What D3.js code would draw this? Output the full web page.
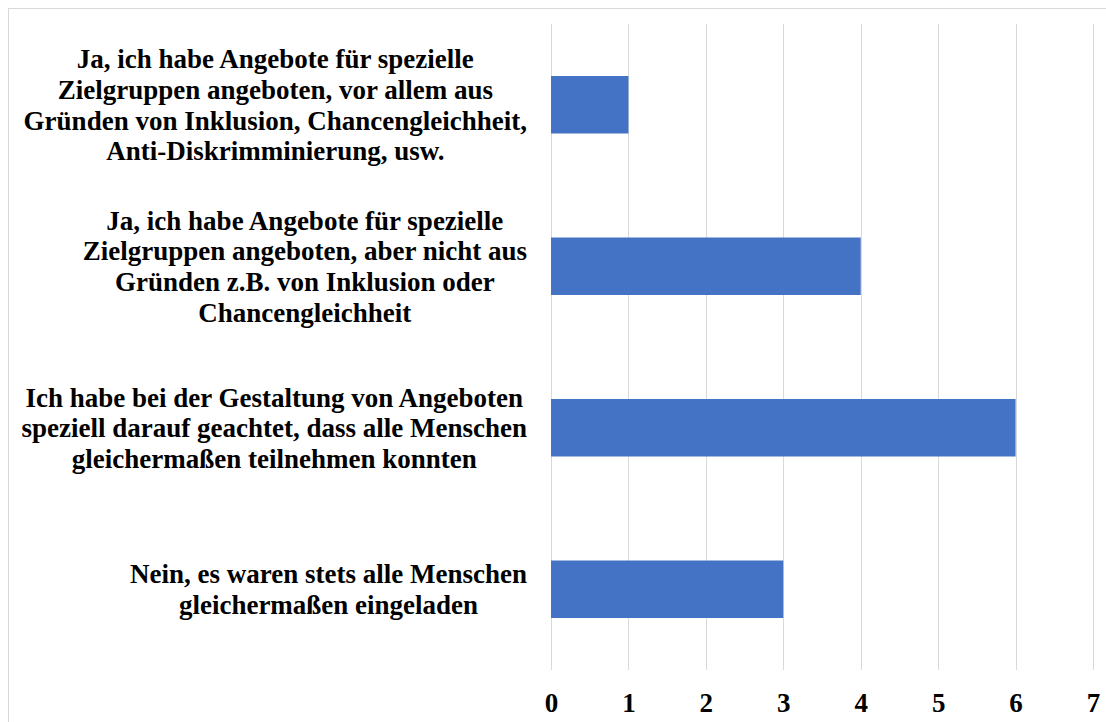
<!DOCTYPE html>
<html><head><meta charset="utf-8">
<script src="https://cdn.jsdelivr.net/npm/d3@7"></script>
<style>
html,body{margin:0;padding:0;background:#fff;}
svg{display:block;}
</style></head>
<body>
<svg id="chart" width="1106" height="722"></svg>
<script>
const categories = [
  ["Ja, ich habe Angebote für spezielle", "Zielgruppen angeboten, vor allem aus", "Gründen von Inklusion, Chancengleichheit,", "Anti-Diskrimminierung, usw."],
  ["Ja, ich habe Angebote für spezielle", "Zielgruppen angeboten, aber nicht aus", "Gründen z.B. von Inklusion oder", "Chancengleichheit"],
  ["Ich habe bei der Gestaltung von Angeboten", "speziell darauf geachtet, dass alle Menschen", "gleichermaßen teilnehmen konnten"],
  ["Nein, es waren stets alle Menschen", "gleichermaßen eingeladen"]
];
const values = [1, 4, 6, 3];
const xTicks = [0, 1, 2, 3, 4, 5, 6, 7];

(function () {
const svg = d3.select("#chart");
const plotLeft = 551, plotRight = 1093, plotTop = 24, plotBottom = 670;
const fontFam = "'Liberation Serif','Times New Roman',serif";

// outer border
svg.append("rect").attr("x", 8.5).attr("y", 8.5).attr("width", 1120).attr("height", 740)
  .attr("fill", "none").attr("stroke", "#d9d9d9").attr("stroke-width", 1);

const x = d3.scaleLinear().domain([0, 7]).range([plotLeft, plotRight]);
const y = d3.scaleBand().domain(d3.range(categories.length)).range([plotTop, plotBottom]).paddingInner(0.644).paddingOuter(0.322);

// gridlines
svg.append("g").selectAll("line").data(xTicks).join("line")
  .attr("x1", d => Math.round(x(d)) + 0.5).attr("x2", d => Math.round(x(d)) + 0.5)
  .attr("y1", plotTop).attr("y2", plotBottom)
  .attr("stroke", "#d9d9d9").attr("stroke-width", 1);

// bars
svg.append("g").selectAll("rect").data(values).join("rect")
  .attr("x", x(0)).attr("y", (d, i) => y(i))
  .attr("width", d => x(d) - x(0)).attr("height", y.bandwidth())
  .attr("fill", "#4472C4");

// x axis labels
const xAxis = d3.axisBottom(x).tickValues(xTicks).tickSize(0).tickPadding(0).tickFormat(d3.format("d"));
const gx = svg.append("g").attr("transform", `translate(0,${plotBottom})`).call(xAxis);
gx.select(".domain").remove();
gx.selectAll("text").attr("y", 42).attr("dy", null)
  .attr("font-family", fontFam).attr("font-weight", "bold").attr("font-size", 27).attr("fill", "#000");

// category labels
const labelRight = 527, lineH = 30.7;
categories.forEach((lines, i) => {
  const g = svg.append("g");
  const cy = y(i) + y.bandwidth() / 2;
  const n = lines.length;
  const texts = g.selectAll("text").data(lines).join("text")
    .attr("font-family", fontFam).attr("font-weight", "bold").attr("font-size", 27)
    .attr("fill", "#000").attr("text-anchor", "middle")
    .attr("y", (d, j) => cy + (j - (n - 1) / 2) * lineH + 9.5)
    .text(d => d);
  let maxW = 0;
  texts.each(function () { maxW = Math.max(maxW, this.getComputedTextLength()); });
  texts.attr("x", labelRight - maxW / 2);
});
})();
</script>
</body></html>
